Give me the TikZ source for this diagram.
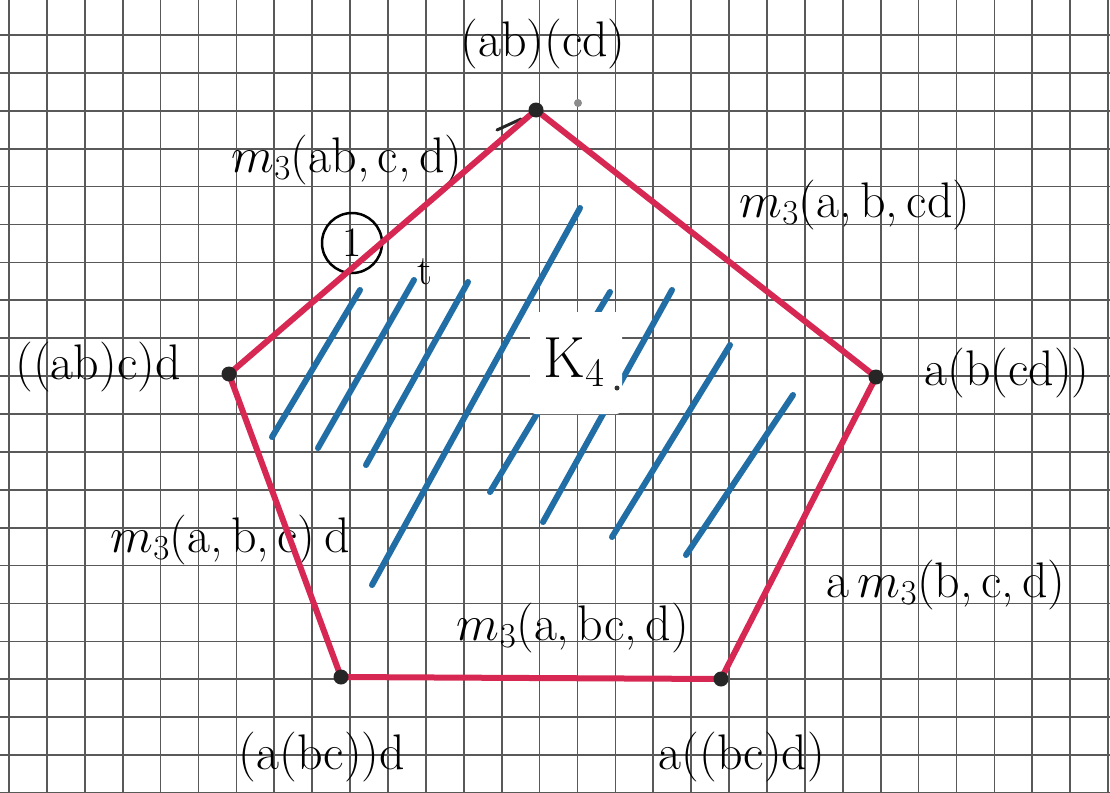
\RequirePackage{fix-cm}
\documentclass[tikz,border=0pt]{standalone}
\begin{document}
\begin{tikzpicture}[x=1pt,y=-1pt,
  gridline/.style={draw=black!65,line width=1.7pt},
  hatch/.style={draw=hatchblue,line width=6pt,line cap=round},
  edge/.style={draw=pentred,line width=6pt,line cap=round,line join=round},
  vdot/.style={circle,fill=black!85,inner sep=0pt,minimum size=15pt},
  lab/.style={font=\fontsize{50}{56}\selectfont,inner sep=0pt},
  slab/.style={font=\fontsize{42}{46}\selectfont,inner sep=0pt}]
\definecolor{hatchblue}{RGB}{32,110,165}
\definecolor{pentred}{RGB}{214,40,82}
\useasboundingbox (0,0) rectangle (1110,792);
\fill[white] (0,0) rectangle (1110,792);
% grid
\begin{scope}
\clip (0,0) rectangle (1110,792);
\begin{scope}[shift={(9,35)}]
\draw[gridline,step=37.9pt] (-37.9pt,37.9pt) grid (1137pt,-795pt);
\end{scope}
\end{scope}
% hatching
\draw[hatch] (272,437) -- (360,290);
\draw[hatch] (318,448) -- (414,280);
\draw[hatch] (366,465) -- (468,282);
\draw[hatch] (372,585) -- (580,208);
\draw[hatch] (490,492) -- (610,292);
\draw[hatch] (543,522) -- (672,290);
\draw[hatch] (612,537) -- (730,345);
\draw[hatch] (686,555) -- (793,395);
% K4 patch
\node[fill=white,rounded corners=6pt,minimum width=92pt,minimum height=102pt,inner sep=0pt] (patch) at (576,363) {};
\node[inner sep=0pt,font=\fontsize{58}{64}\selectfont] (K4) at (574,362) {K$_4$};
\fill[black!80] (617,388) circle (2.5pt);
% vertices
\coordinate (T) at (536,110);
\coordinate (R) at (876,377);
\coordinate (BR) at (721,679);
\coordinate (BL) at (341,677);
\coordinate (L) at (229,374);
% labels
\node[lab] (lT) at (543,44) {(ab)(cd)};
\node[lab] (lR) at (1007,373) {a(b(cd))};
\node[lab] (lBR) at (742,757) {a((bc)d)};
\node[lab] (lBL) at (322,757) {(a(bc))d};
\node[lab] (lL) at (98,367) {((ab)c)d};
\node[lab] (eTL) at (347,160) {$m_3$(ab,\,c,\,d)};
\node[lab] (eTR) at (855,205) {$m_3$(a,\,b,\,cd)};
\node[lab] (eL) at (230,540) {$m_3$(a,\,b,\,c)\,d};
\node[lab] (eR) at (946,585) {a\,$m_3$(b,\,c,\,d)};
\node[lab] (eB) at (573,628) {$m_3$(a,\,bc,\,d)};
% annotations
\node[circle,draw=black,line width=2.5pt,minimum size=60pt,inner sep=0pt,slab] (one) at (352,243) {1};
\node[slab] (tt) at (425,272) {t};
\coordinate (tickA) at (497,130);
\coordinate (tickB) at (521,119);
\draw[black!85,line width=3pt,line cap=round] (tickA) -- (tickB);
\fill[black!45] (578,103) circle (4pt);
% pentagon
\draw[edge] (T) -- (R) -- (BR) -- (BL) -- (L) -- cycle;
\node[vdot] (dT) at (T) {};
\node[vdot] (dR) at (R) {};
\node[vdot] (dBR) at (BR) {};
\node[vdot] (dBL) at (BL) {};
\node[vdot] (dL) at (L) {};
\end{tikzpicture}
\end{document}
